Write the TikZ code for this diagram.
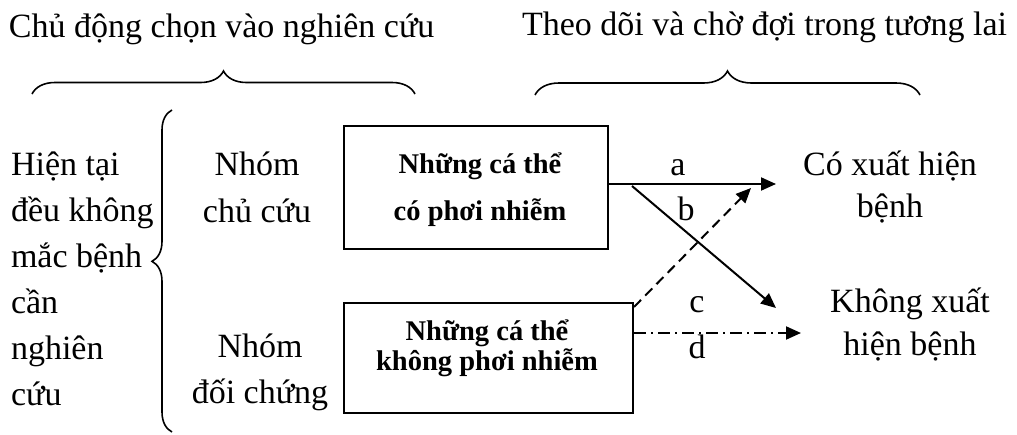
\documentclass[tikz,border=0pt]{standalone}
\usepackage{fontspec}
\setmainfont{Liberation Serif}
\usetikzlibrary{decorations.pathreplacing,arrows.meta}
\begin{document}
\begin{tikzpicture}[x=1pt,y=-1pt,line width=2pt,
  txt/.style={font=\fontsize{34}{46}\selectfont,inner sep=0pt},
  btxt/.style={font=\fontsize{28.5}{30}\selectfont\bfseries,inner sep=0pt},
  boxstyle/.style={draw,inner sep=0pt},
  arr/.style={-{Triangle[length=15pt,width=13pt]}},
  brc/.style={line width=1.6pt,decorate,decoration={brace,amplitude=#1}},
  dsh/.style={dash pattern=on 10pt off 6pt},
  dshdot/.style={dash pattern=on 12pt off 5pt on 2pt off 5pt}]
\useasboundingbox (0,0) rectangle (1017,434);
% titles
\node[txt,anchor=base west] (t1) at (8,37) {Chủ động chọn vào nghiên cứu};
\node[txt,anchor=base west] (t2) at (521,35) {Theo dõi và chờ đợi trong tương lai};
% braces
\coordinate (br1a) at (32,94);
\coordinate (br1b) at (415,94);
\coordinate (br2a) at (535,95);
\coordinate (br2b) at (920,95);
\coordinate (br3a) at (172,432);
\coordinate (br3b) at (172,110);
\draw[brc=23pt] (br1a) -- (br1b);
\draw[brc=24pt] (br2a) -- (br2b);
\draw[brc=20pt,decoration={aspect=0.53}] (br3a) -- (br3b);
% left column (base anchor = last line)
\node[txt,align=left,anchor=base west,font=\fontsize{34}{46}\selectfont] (left) at (10,405)
  {Hiện tại\\đều không\\mắc bệnh\\cần\\nghiên\\cứu};
% group labels
\node[txt,align=center,anchor=base,font=\fontsize{34}{47}\selectfont] (g1) at (257,222) {Nhóm\\chủ cứu};
\node[txt,align=center,anchor=base,font=\fontsize{34}{46}\selectfont] (g2) at (260,403) {Nhóm\\đối chứng};
% boxes
\node[boxstyle,anchor=north west,minimum width=264pt,minimum height=123pt] (b1) at (343,125) {};
\node[btxt,align=center,anchor=base,font=\fontsize{28.5}{47}\selectfont\bfseries] (b1t) at (480,220) {Những cá thể\\có phơi nhiễm};
\node[boxstyle,anchor=north west,minimum width=289pt,minimum height=110pt] (b2) at (343,302) {};
\node[btxt,align=center,anchor=base] (b2t) at (487,370) {Những cá thể\\không phơi nhiễm};
% outcomes
\node[txt,align=center,anchor=base,font=\fontsize{34}{42}\selectfont] (o1) at (890,217) {Có xuất hiện\\bệnh};
\node[txt,align=center,anchor=base,font=\fontsize{34}{43}\selectfont] (o2) at (910,355) {Không xuất\\hiện bệnh};
% arrows
\coordinate (ae) at (776,184);
\coordinate (bs) at (632,186);
\coordinate (be) at (776,308);
\coordinate (ce) at (751,188);
\coordinate (de) at (801,333);
\draw[arr] (b1.east |- ae) -- (ae);
\draw[arr] (bs) -- (be);
\draw[arr,dsh] ([yshift=-5pt]b2.north east) -- (ce);
\draw[arr,dshdot] (b2.east |- de) -- (de);
% arrow labels
\node[txt,anchor=base] (la) at (678,175) {a};
\node[txt,anchor=base] (lb) at (686,220) {b};
\node[txt,anchor=base] (lc) at (697,312) {c};
\node[txt,anchor=base] (ld) at (697,358) {d};
\end{tikzpicture}
\end{document}
